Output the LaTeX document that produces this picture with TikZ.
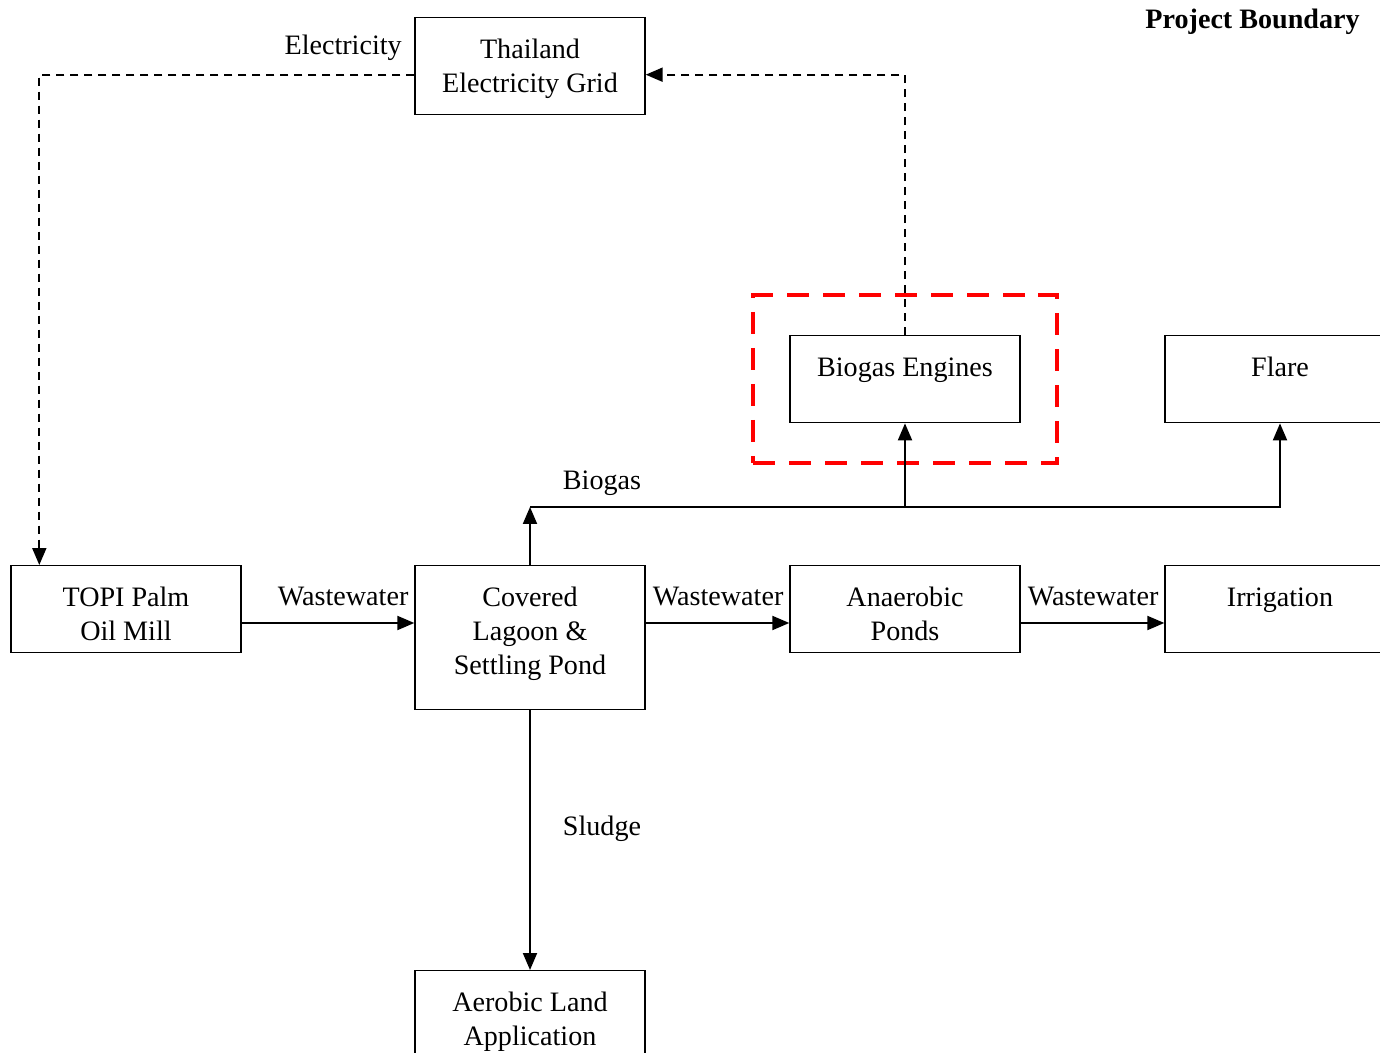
\documentclass[tikz,border=0pt]{standalone}
\usepackage{fontspec}
\setmainfont{Liberation Serif}
\usetikzlibrary{arrows.meta, fit}

\begin{document}
\begin{tikzpicture}[x=0.02cm, y=-0.02cm, font=\fontsize{16}{19.3}\selectfont,
Box/.style={draw, line width=0.8pt, minimum width=4.6cm, inner xsep=0pt, inner ysep=0pt, align=center, anchor=north},
Flow/.style={line width=1.1pt, -{Triangle[length=0.34cm, width=0.28cm]}},
ElecDashed/.style={Flow, dash pattern=on 0.16cm off 0.12cm},
RedDashed/.style={draw=red, line width=2.3pt, dash pattern=on 0.44cm off 0.28cm}]
\useasboundingbox (0,0) rectangle (1380,1053);
% boxes: name / centre x / top y / height above last baseline / depth
\foreach \name/\cx/\top/\hup/\dep/\txt in {
  grid/530/17/1.5/0.44/{Thailand\\Electricity Grid},
  mill/126/565/1.5/0.24/{TOPI Palm\\Oil Mill},
  lagoon/530/565/2.18/0.7/{Covered\\Lagoon \&\\Settling Pond},
  ponds/905/565/1.5/0.24/{Anaerobic\\Ponds},
  irrig/1280/565/0.82/0.92/{Irrigation},
  engines/905/335/0.82/0.92/{Biogas Engines},
  flare/1280/335/0.82/0.92/{Flare},
  landapp/530/970/1.5/0.24/{Aerobic Land\\Application}%
} {
  \node [Box, text height=\hup cm, text depth=\dep cm] (\name) at (\cx,\top) {\txt};
}
\node [RedDashed, fit=(engines), inner xsep=0.72cm, inner ysep=0.8cm] (pbox) {};
\node [font=\fontsize{16}{19.3}\selectfont\bfseries, anchor=base east, inner sep=0pt] (pblabel) at (1360,29) {Project Boundary};
% wastewater line
\foreach \a/\b in {mill/lagoon, lagoon/ponds, ponds/irrig} {
  \draw [Flow] (\a.east |- 0,623) -- (\b.west |- 0,623) node [pos=1, anchor=base east, inner sep=0pt, xshift=-0.1cm, yshift=0.36cm] {Wastewater};
}
% biogas
\coordinate (split) at (530,507);
\draw [Flow] (lagoon.north) -- (split) node [pos=1, anchor=base west, inner sep=0pt, xshift=0.64cm, yshift=0.34cm] {Biogas};
\draw [Flow] (split) -| (flare.south);
\draw [Flow] (split -| engines.south) -- (engines.south);
% sludge
\draw [Flow] (lagoon.south) -- (landapp.north) node [midway, anchor=base west, inner sep=0pt, xshift=0.64cm, yshift=0.09cm] {Sludge};
% electricity
\draw [ElecDashed] (engines.north) |- ([yshift=-0.17cm]grid.east);
\draw [ElecDashed] ([yshift=-0.17cm]grid.west) -| ([xshift=0.58cm]mill.north west);
\node [anchor=base east, inner sep=0pt] (elabel) at (402,55) {Electricity};
\end{tikzpicture}
\end{document}
